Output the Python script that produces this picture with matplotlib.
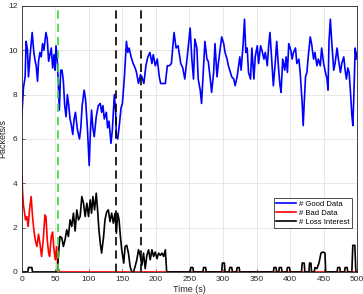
import matplotlib
matplotlib.use("Agg")
import matplotlib.pyplot as plt

# Good data (packets/s)
t_good = [0, 2.5, 5, 6.5, 8.5, 10, 12.5, 15.5, 18, 20, 21.5, 23.5, 25, 27, 29, 31, 33, 36, 38, 40,
          42, 44, 46, 48, 49.5, 51, 53, 54.5, 56, 58, 60, 62, 64, 66, 68, 70, 72, 74, 76, 78,
          80, 83, 86, 88, 90, 93, 95, 98, 100.5, 102, 104, 106, 108, 111, 114, 117, 119, 121, 123, 126,
          128, 130, 133, 135, 138, 140, 141, 143, 145, 148, 150, 153, 156, 158, 160, 163, 166, 169, 171, 174,
          177, 179, 182, 185, 188, 191, 194, 196, 199, 202, 205, 207, 211, 214, 217, 220, 223, 227, 230, 233,
          237, 240, 243, 247, 251, 253.5, 256, 258, 261, 263, 266, 268, 271, 273, 276, 278, 281, 283, 286, 288,
          291, 293, 296, 298, 301, 303, 306, 308, 311, 313, 316, 318, 321, 325, 327, 330, 332, 334, 336, 338,
          341, 343, 346, 348, 351, 353, 356, 358, 361, 363, 366, 368, 370, 373, 375, 378, 380, 383, 385, 386.5,
          389, 392, 394, 396, 398, 401, 403, 405, 408, 410, 413, 415, 418, 419.5, 421, 423, 425, 427, 430, 432,
          435, 437, 440, 442, 445, 447, 450, 452, 455, 456.5, 458, 460, 462, 465, 467, 470, 472, 475, 477, 480,
          482, 484, 486, 488, 490, 492, 493.5, 495, 497, 498.5, 500]
good = [7.0, 8.3, 8.8, 10.4, 10.0, 8.8, 9.8, 10.8, 9.9, 9.5, 9.3, 8.6, 9.5, 9.9, 9.7, 10.3, 10.0, 10.8, 10.5, 9.5,
        9.8, 10.1, 9.2, 9.8, 9.1, 10.2, 9.5, 8.4, 7.3, 9.1, 9.1, 8.6, 7.5, 7.0, 8.0, 7.5, 6.9, 6.6, 6.2, 6.9,
        7.2, 6.4, 6.0, 6.5, 7.5, 8.2, 7.8, 6.4, 4.8, 6.1, 7.3, 6.5, 6.1, 7.0, 7.5, 7.6, 7.2, 7.5, 6.9, 7.2,
        6.5, 6.8, 5.8, 6.4, 8.0, 7.2, 6.1, 6.0, 6.5, 7.4, 7.6, 8.8, 10.4, 9.9, 10.1, 9.7, 9.4, 9.2, 9.0, 8.5,
        8.9, 8.8, 8.5, 9.3, 9.7, 9.9, 9.4, 9.8, 9.3, 9.6, 8.8, 8.5, 8.5, 8.5, 9.3, 9.3, 9.4, 10.8, 10.1, 10.2,
        9.4, 9.2, 8.7, 9.8, 11.0, 9.6, 8.7, 10.5, 10.1, 8.7, 8.2, 7.6, 9.3, 10.4, 9.6, 9.5, 8.7, 8.1, 9.0, 10.3,
        8.8, 9.4, 10.1, 10.6, 10.3, 9.9, 9.6, 9.3, 9.0, 8.8, 8.7, 8.4, 8.8, 9.7, 9.1, 10.3, 11.4, 9.9, 10.1, 9.0,
        8.7, 10.1, 8.7, 9.7, 10.2, 9.4, 10.2, 10.0, 9.6, 9.9, 9.3, 10.2, 10.8, 9.4, 8.4, 9.5, 10.4, 9.1, 8.4, 8.1,
        9.6, 9.1, 9.7, 9.0, 10.3, 10.0, 9.6, 9.9, 10.1, 9.4, 9.6, 9.0, 7.6, 6.6, 7.6, 8.8, 9.0, 9.7, 10.6, 10.3,
        9.6, 9.9, 9.3, 9.6, 9.3, 10.1, 9.4, 9.1, 8.7, 8.2, 10.4, 11.4, 10.4, 9.1, 9.4, 10.1, 9.6, 9.0, 9.4, 9.7,
        9.1, 8.7, 9.2, 9.0, 8.1, 7.1, 6.6, 7.9, 10.1, 9.6, 9.9]

# Bad data
t_bad = [0, 1, 2.5, 4, 5.5, 7.5, 9.5, 11.5, 14, 16, 18, 20, 22.5, 25, 27, 29.5, 32, 34.5, 36, 38,
         40, 41.5, 44, 46, 48, 50, 52, 53.5, 56, 500]
bad = [5.0, 3.7, 3.0, 2.7, 2.35, 2.5, 2.05, 2.8, 3.4, 2.5, 1.9, 1.45, 1.15, 1.7, 1.3, 0.7, 1.45, 2.57, 2.5, 1.45,
       0.85, 0.7, 1.6, 1.8, 1.0, 0.55, 1.15, 0.25, 0, 0]

# Loss interest
t_loss = [0, 9, 10, 15, 16, 53, 55.6, 57, 59.6, 62, 64.5, 67, 69.5, 72, 74.5, 77, 79.5, 82, 84.5, 87,
          89.5, 92, 94.5, 97, 99.5, 102, 104, 106, 108.5, 111, 113, 115, 117, 119, 122, 124, 126.5, 129, 131.5, 134,
          136.5, 139, 141, 143, 145, 147, 149, 152, 154, 156.5, 159, 161.5, 164, 166.5, 169, 171.5, 174, 176.5, 179, 181.5,
          184, 186.5, 189, 191.5, 194, 196.5, 199, 201.5, 204, 206.5, 209, 211.5, 214, 216,
          251, 252, 255, 256, 270, 271, 274, 275, 298, 299, 302, 303, 309, 310, 313, 314, 320, 321, 324, 325,
          375, 376, 379, 380, 383, 384, 387, 388, 395, 396, 399, 400, 417, 418, 421, 422, 428, 429, 431, 432,
          436, 437, 440, 443, 446, 449, 452, 453, 470, 471, 474, 475, 481, 482, 485, 486, 492, 493.5, 496.5, 498, 500]
loss = [0, 0, 0.2, 0.2, 0, 0, 1.15, 1.6, 1.55, 1.15, 1.45, 1.9, 1.6, 2.35, 2.05, 2.65, 1.85, 2.8, 2.35, 2.5,
        3.4, 3.1, 2.5, 3.1, 2.5, 3.25, 2.65, 3.4, 2.8, 3.55, 2.8, 1.9, 1.3, 0.85, 1.6, 2.35, 2.7, 2.8, 2.27, 2.65,
        2.2, 2.65, 1.75, 2.65, 2.35, 1.6, 1.0, 0.4, 1.15, 1.2, 0.85, 0.25, 0, 0, 0.25, 0.55, 1.0, 0.75, 0.3, 0.85,
        0.15, 0.75, 1.0, 0.55, 1.0, 0.7, 0.9, 0.6, 0.85, 0.75, 0.85, 0.7, 1.0, 0,
        0, 0.2, 0.2, 0, 0, 0.2, 0.2, 0, 0, 0.4, 0.4, 0, 0, 0.2, 0.2, 0, 0, 0.2, 0.2, 0,
        0, 0.2, 0.2, 0, 0, 0.2, 0.2, 0, 0, 0.2, 0.2, 0, 0, 0.4, 0.4, 0, 0, 0.4, 0.4, 0,
        0, 0.2, 0.15, 0.4, 0.85, 0.9, 0.85, 0, 0, 0.2, 0.2, 0, 0, 0.2, 0.2, 0, 0, 1.2, 1.2, 0, 0]

green_mark = 54
black_marks = [140, 177]

plt.rcParams['font.family'] = ['Liberation Sans', 'DejaVu Sans']

fig = plt.figure(figsize=(3.63, 2.94), dpi=100)
ax = fig.add_axes([0.06, 0.075, 0.924, 0.905])

ax.plot(t_good, good, color="#0000ff", lw=1.2, label="# Good Data")
ax.plot(t_bad, bad, color="#ff0000", lw=1.2, label="# Bad Data")
ax.plot(t_loss, loss, color="black", lw=1.2, label="# Loss Interest")

ax.axvline(green_mark, color="#33dd33", lw=1.2, dashes=(5, 3))
for m in black_marks:
    ax.axvline(m, color="black", lw=1.2, dashes=(5, 3))

ax.set_xlim(0, 500)
ax.set_ylim(0, 12)
ax.set_xticks(range(0, 501, 50))
ax.set_yticks(range(0, 13, 2))
ax.grid(True, color="#e3e3e3", lw=0.6)
ax.set_axisbelow(True)
ax.tick_params(direction="in", labelsize=6, length=2.5, width=0.5, colors="#262626", pad=3)
for s in ax.spines.values():
    s.set_linewidth(0.6)
    s.set_color("#262626")

ax.set_xlabel("Time (s)", fontsize=6.5, color="#262626", labelpad=1)
ax.set_ylabel("Packets/s", fontsize=6.5, color="#262626")
ax.yaxis.set_label_coords(-0.042, 0.5)

leg = ax.legend(loc="lower right", bbox_to_anchor=(0.985, 0.165), fontsize=5.5, frameon=True,
                fancybox=False, edgecolor="black", handlelength=2.6, borderpad=0.3,
                labelspacing=0.2, handletextpad=0.4, borderaxespad=0)
leg.get_frame().set_linewidth(0.6)

fig.savefig("out.png", dpi=100)
